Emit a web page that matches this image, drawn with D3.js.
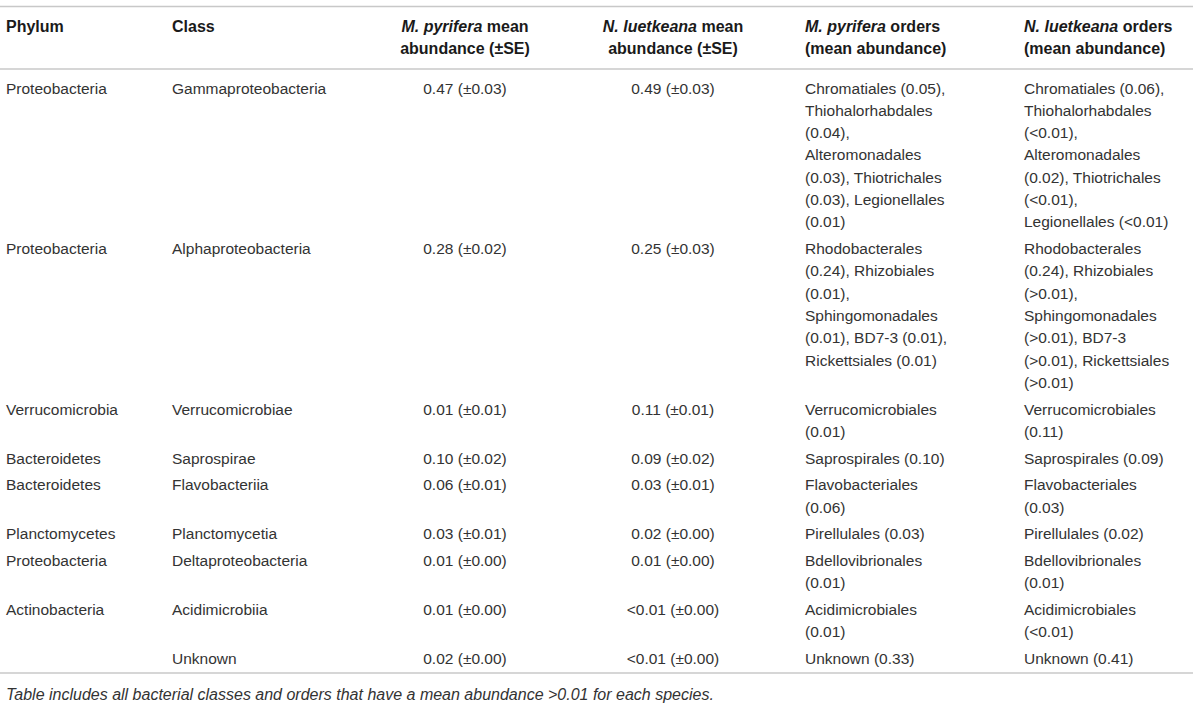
<!DOCTYPE html>
<html>
<head>
<meta charset="utf-8">
<script src="https://cdn.jsdelivr.net/npm/d3@7/dist/d3.min.js"></script>
<style>
  html, body { margin: 0; padding: 0; background: #fff; }
  svg { display: block; }
  text { font-family: "Liberation Sans", Arial, Helvetica, sans-serif; }
</style>
</head>
<body>
<svg id="chart" width="1200" height="709"></svg>
<script>
// ---------- data ----------
const phyla = ["Proteobacteria", "Proteobacteria", "Verrucomicrobia", "Bacteroidetes", "Bacteroidetes",
  "Planctomycetes", "Proteobacteria", "Actinobacteria", ""];
const classes = ["Gammaproteobacteria", "Alphaproteobacteria", "Verrucomicrobiae", "Saprospirae", "Flavobacteriia",
  "Planctomycetia", "Deltaproteobacteria", "Acidimicrobiia", "Unknown"];
const mpMean = ["0.47 (±0.03)", "0.28 (±0.02)", "0.01 (±0.01)", "0.10 (±0.02)", "0.06 (±0.01)",
  "0.03 (±0.01)", "0.01 (±0.00)", "0.01 (±0.00)", "0.02 (±0.00)"];
const nlMean = ["0.49 (±0.03)", "0.25 (±0.03)", "0.11 (±0.01)", "0.09 (±0.02)", "0.03 (±0.01)",
  "0.02 (±0.00)", "0.01 (±0.00)", "<0.01 (±0.00)", "<0.01 (±0.00)"];
const mpOrders = [
  ["Chromatiales (0.05),", "Thiohalorhabdales", "(0.04),", "Alteromonadales", "(0.03), Thiotrichales", "(0.03), Legionellales", "(0.01)"],
  ["Rhodobacterales", "(0.24), Rhizobiales", "(0.01),", "Sphingomonadales", "(0.01), BD7-3 (0.01),", "Rickettsiales (0.01)"],
  ["Verrucomicrobiales", "(0.01)"],
  ["Saprospirales (0.10)"],
  ["Flavobacteriales", "(0.06)"],
  ["Pirellulales (0.03)"],
  ["Bdellovibrionales", "(0.01)"],
  ["Acidimicrobiales", "(0.01)"],
  ["Unknown (0.33)"]
];
const nlOrders = [
  ["Chromatiales (0.06),", "Thiohalorhabdales", "(<0.01),", "Alteromonadales", "(0.02), Thiotrichales", "(<0.01),", "Legionellales (<0.01)"],
  ["Rhodobacterales", "(0.24), Rhizobiales", "(>0.01),", "Sphingomonadales", "(>0.01), BD7-3", "(>0.01), Rickettsiales", "(>0.01)"],
  ["Verrucomicrobiales", "(0.11)"],
  ["Saprospirales (0.09)"],
  ["Flavobacteriales", "(0.03)"],
  ["Pirellulales (0.02)"],
  ["Bdellovibrionales", "(0.01)"],
  ["Acidimicrobiales", "(<0.01)"],
  ["Unknown (0.41)"]
];
const headers = [
  [[{t: "Phylum"}]],
  [[{t: "Class"}]],
  [[{t: "M. pyrifera", i: true}, {t: " mean"}], [{t: "abundance (±SE)"}]],
  [[{t: "N. luetkeana", i: true}, {t: " mean"}], [{t: "abundance (±SE)"}]],
  [[{t: "M. pyrifera", i: true}, {t: " orders"}], [{t: "(mean abundance)"}]],
  [[{t: "N. luetkeana", i: true}, {t: " orders"}], [{t: "(mean abundance)"}]]
];
const footnote = "Table includes all bacterial classes and orders that have a mean abundance >0.01 for each species.";

// ---------- layout ----------
const W = 1200, H = 709;
const fs = 15.5;
const lineH = 22.3;
const rowGap = 26.7;
const textColor = "#333";
const ruleColor = "#c8c8c8";

const colKeys = ["phylum", "class", "mp", "nl", "mpo", "nlo"];
const colX = d3.scaleOrdinal().domain(colKeys).range([6, 172, 465, 673, 805, 1024]);
const colAnchor = d3.scaleOrdinal().domain(colKeys).range(["start", "start", "middle", "middle", "start", "start"]);

const svg = d3.select("#chart");
svg.append("rect").attr("width", W).attr("height", H).attr("fill", "#fff");

// rows
const rows = phyla.map((p, i) => ({
  cells: {
    phylum: [p], class: [classes[i]], mp: [mpMean[i]], nl: [nlMean[i]],
    mpo: mpOrders[i], nlo: nlOrders[i]
  }
}));
rows.forEach(r => r.n = d3.max(colKeys, k => r.cells[k].length));
let yCur = 88;
rows.forEach(r => { r.y = yCur; yCur += (r.n - 1) * lineH + rowGap; });

const yRow = d3.scaleLinear().domain([0, 1]).range([0, lineH]); // line offset within a cell

// rules
const rules = [6.5, 69, 673];
svg.selectAll("line.rule").data(rules).join("line")
  .attr("class", "rule")
  .attr("x1", 0).attr("x2", 1193)
  .attr("y1", d => d).attr("y2", d => d)
  .attr("stroke", ruleColor).attr("stroke-width", 1.4);

// header
const hdr = svg.append("g");
colKeys.forEach((k, ci) => {
  headers[ci].forEach((lineParts, li) => {
    const t = hdr.append("text")
      .attr("x", colX(k))
      .attr("y", 26 + li * 22 + 5.5)
      .attr("text-anchor", colAnchor(k))
      .attr("font-size", 16)
      .attr("font-weight", "bold")
      .attr("fill", "#1a1a1a");
    t.selectAll("tspan").data(lineParts).join("tspan")
      .attr("font-style", d => d.i ? "italic" : "normal")
      .text(d => d.t);
  });
});

// body
const body = svg.append("g");
const rowG = body.selectAll("g.row").data(rows).join("g").attr("class", "row");
colKeys.forEach(k => {
  rowG.each(function (r) {
    d3.select(this).selectAll("text.c-" + k).data(r.cells[k]).join("text")
      .attr("class", "c-" + k)
      .attr("x", colX(k))
      .attr("y", (d, j) => r.y + yRow(j) + 5.5)
      .attr("text-anchor", colAnchor(k))
      .attr("font-size", fs)
      .attr("fill", textColor)
      .text(d => d);
  });
});

// footnote
svg.append("text")
  .attr("x", 6).attr("y", 694 + 5.5)
  .attr("font-size", 16)
  .attr("font-style", "italic")
  .attr("fill", "#333")
  .text(footnote);
</script>
</body>
</html>
